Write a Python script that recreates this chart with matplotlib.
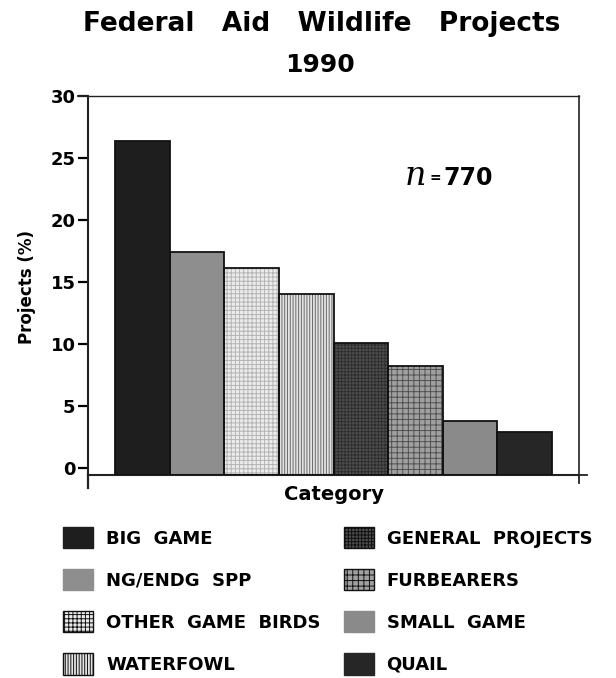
import matplotlib.pyplot as plt
from matplotlib.patches import Patch

categories = ['BIG  GAME', 'NG/ENDG  SPP', 'OTHER  GAME  BIRDS', 'WATERFOWL',
              'GENERAL  PROJECTS', 'FURBEARERS', 'SMALL  GAME', 'QUAIL']
percents = [26.4, 17.4, 16.1, 14.0, 10.1, 8.2, 3.8, 2.9]
yticks = [0, 5, 10, 15, 20, 25, 30]

# fill / hatch per bar to mimic the old print screens
faces = ['#1e1e1e', '#8e8e8e', '#ececec', '#e4e4e4', '#4e4e4e', '#a0a0a0', '#8a8a8a', '#262626']
hatches = [None, None, '++++', '||||||', '+++++', '+++', None, None]
hatch_cols = ['#1e1e1e', '#8e8e8e', '#b4b4b4', '#6a6a6a', '#2e2e2e', '#505050', '#8a8a8a', '#262626']

plt.rcParams['font.family'] = ['DejaVu Sans']
plt.rcParams['font.weight'] = 'bold'
plt.rcParams['hatch.linewidth'] = 0.7

fig = plt.figure(figsize=(6.16, 6.78), dpi=100)
ax = fig.add_axes([0.1429, 0.2994, 0.797, 0.559])

x = list(range(len(percents)))
ymin = -0.56
for i in x:
    ax.bar(i, percents[i] - ymin, bottom=ymin, width=1.0, color=faces[i],
           edgecolor=hatch_cols[i], hatch=hatches[i], linewidth=0, zorder=2)
    ax.bar(i, percents[i] - ymin, bottom=ymin, width=1.0, fill=False,
           edgecolor='#111111', linewidth=1.3, zorder=3)

ax.set_xlim(-1.0, 8.0)
ax.set_ylim(ymin, 30)
ax.set_yticks(yticks)
ax.set_yticklabels([str(t) for t in yticks], fontsize=13, fontweight='bold')
ax.set_xticks([])
ax.tick_params(axis='y', direction='out', length=7, width=1.6, pad=2)
for s in ax.spines.values():
    s.set_linewidth(1.5)
    s.set_color('#222222')
ax.spines['top'].set_linewidth(1.0)
ax.spines['right'].set_linewidth(1.2)

# axis lines running past the frame
ax.plot([0, 0], [0, -0.035], transform=ax.transAxes, color='#222222', lw=1.6, clip_on=False)
ax.plot([1, 1.016], [0, 0], transform=ax.transAxes, color='#222222', lw=1.3, clip_on=False)
ax.plot([1, 1], [0, -0.02], transform=ax.transAxes, color='#222222', lw=1.3, clip_on=False)
ax.plot([-0.02, 0], [1, 1], transform=ax.transAxes, color='#222222', lw=1.3, clip_on=False)

ax.set_ylabel('Projects (%)', fontsize=12, fontweight='bold')
ax.yaxis.set_label_coords(-0.105, 0.496)
ax.set_xlabel('Category', fontsize=14, fontweight='bold', labelpad=7)

fig.text(405 / 616, 1 - 185 / 678, 'n', family='DejaVu Serif', style='italic',
         fontweight='normal', fontsize=24, ha='left', va='baseline')
fig.text(435 / 616, 1 - 178 / 678, '=', fontsize=10, ha='center', va='center')
fig.text(443 / 616, 1 - 185 / 678, '770', fontsize=17, fontweight='bold',
         ha='left', va='baseline')

fig.text(322 / 616, 1 - 31 / 678, 'Federal   Aid   Wildlife   Projects', fontsize=19,
         fontweight='bold', ha='center', va='baseline')
fig.text(320 / 616, 1 - 72 / 678, '1990', fontsize=18, fontweight='bold',
         ha='center', va='baseline')

handles = [Patch(facecolor=faces[i], edgecolor='#111111' if hatches[i] else faces[i],
                 hatch=hatches[i], linewidth=1.0) for i in x]
leg = fig.legend(handles, categories, ncol=2, loc='upper left',
                 bbox_to_anchor=(63 / 616, 1 - 527 / 678), frameon=False, fontsize=13,
                 borderpad=0, borderaxespad=0,
                 handlelength=1.66, handleheight=1.44, handletextpad=0.72,
                 labelspacing=1.15, columnspacing=1.28)
for t in leg.get_texts():
    t.set_fontweight('bold')

fig.savefig('out.png', dpi=100)
